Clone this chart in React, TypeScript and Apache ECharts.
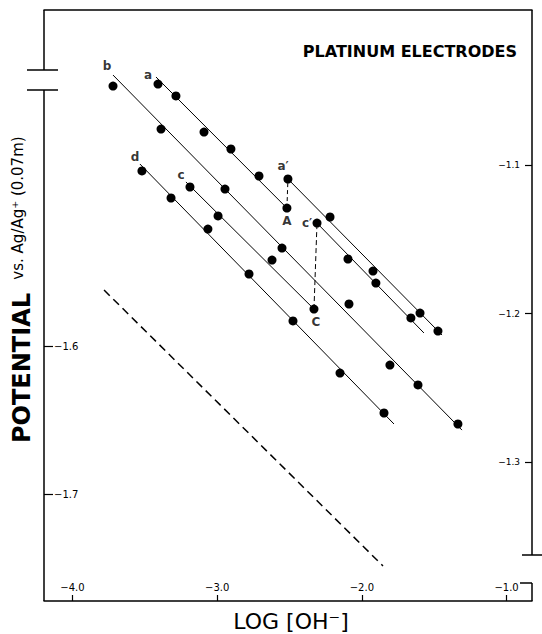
import React, { useEffect, useRef } from "react";
import * as echarts from "echarts";

// Axis ticks and labels
const xTicks = [-4, -3, -2, -1];
const xTickLabels = ["−4.0", "−3.0", "−2.0", "−1.0"];
const rightTicks = [-1.1, -1.2, -1.3];
const rightTickLabels = ["−1.1", "−1.2", "−1.3"];
const leftTicks = [-1.6, -1.7];
const leftTickLabels = ["−1.6", "−1.7"];

// Axis ranges (log[OH-], potential)
const X_MIN = -4.197;
const X_MAX = -0.824;
const YR_MIN = -1.3936;
const YR_MAX = -0.9956;
const YL_MIN = -1.7717;
const YL_MAX = -1.3737;

// Fitted lines (two end points each)
const bLine = [[-3.72, -1.0394], [-1.308, -1.2785]];
const aLine = [[-3.423, -1.0407], [-2.518, -1.129]];
const aPrimeLine = [[-2.511, -1.1094], [-1.446, -1.2145]];
const cLine = [[-3.216, -1.1114], [-2.331, -1.197]];
const cPrimeLine = [[-2.31, -1.1391], [-1.571, -1.2131]];
const dLine = [[-3.534, -1.0993], [-1.778, -1.2744]];
const dashedLine = [[-3.782, -1.1842], [-1.854, -1.37]];
const linkA = [[-2.518, -1.129], [-2.511, -1.1094]];
const linkC = [[-2.331, -1.197], [-2.31, -1.1391]];

// Measured points
const bPoints = [[-3.72, -1.0468], [-3.388, -1.0758], [-2.946, -1.1162], [-2.552, -1.1559], [-2.089, -1.1936], [-1.806, -1.2347], [-1.612, -1.2481], [-1.336, -1.2744]];
const aPoints = [[-3.409, -1.0455], [-3.285, -1.0535], [-3.091, -1.0778], [-2.905, -1.0892], [-2.711, -1.1074], [-2.518, -1.129]];
const aPrimePoints = [[-2.511, -1.1094], [-2.22, -1.135], [-1.923, -1.1714], [-1.598, -1.1997], [-1.474, -1.2118]];
const cPoints = [[-3.188, -1.1148], [-2.994, -1.1343], [-2.621, -1.164], [-2.331, -1.197]];
const cPrimePoints = [[-2.31, -1.1391], [-2.096, -1.1633], [-1.903, -1.1795], [-1.661, -1.203]];
const dPoints = [[-3.52, -1.104], [-3.319, -1.1222], [-3.064, -1.1431], [-2.78, -1.1734], [-2.476, -1.205], [-2.151, -1.2401], [-1.847, -1.267]];

// Curve letters
const letterNames = ["b", "a", "d", "c", "a′", "A", "c′", "C"];
const letterPos = [[-3.762, -1.0333], [-3.478, -1.0394], [-3.568, -1.0946], [-3.25, -1.1067], [-2.545, -1.1007], [-2.518, -1.1377], [-2.379, -1.1391], [-2.317, -1.2057]];

const INK = "#000";
const FONT = '"DejaVu Sans", "Liberation Sans", Arial, sans-serif';

function pick(ticks: number[], labels: string[]) {
  return (v: number) => {
    const i = ticks.findIndex((t) => Math.abs(t - v) < 1e-6);
    return i >= 0 ? labels[i] : "";
  };
}

function fitLine(data: number[][]) {
  return {
    type: "line",
    data,
    symbol: "none",
    silent: true,
    lineStyle: { color: INK, width: 1 },
    z: 2,
  };
}

function dashLine(data: number[][], width: number, dash: number[]) {
  return {
    type: "line",
    data,
    symbol: "none",
    silent: true,
    lineStyle: { color: INK, width, type: dash },
    z: 2,
  };
}

function dots(data: number[][]) {
  return {
    type: "scatter",
    data,
    symbol: "circle",
    symbolSize: 9,
    silent: true,
    itemStyle: { color: "#000", opacity: 1 },
    z: 3,
  };
}

export default function App() {
  const ref = useRef<HTMLDivElement>(null);
  useEffect(() => {
    if (!ref.current) return;
    const chart = echarts.init(ref.current, undefined, { renderer: "svg" });
    const L = 44, R = 532, T = 10, B = 601;
    const frame = { stroke: INK, lineWidth: 1.5 };
    const option: any = {
      animation: false,
      backgroundColor: "#fff",
      grid: { left: L, right: 542 - R, top: T, bottom: 634 - B },
      xAxis: [
        {
          type: "value",
          position: "bottom",
          min: X_MIN,
          max: X_MAX,
          splitLine: { show: false },
          axisLine: { show: true, onZero: false, lineStyle: { color: INK, width: 1.5 } },
          axisTick: { show: true, inside: true, length: 6, customValues: xTicks, lineStyle: { color: INK, width: 1.2 } },
          axisLabel: {
            show: true,
            inside: true,
            margin: 9,
            customValues: xTicks,
            formatter: pick(xTicks, xTickLabels),
            fontFamily: FONT,
            fontSize: 10,
            color: INK,
          },
        },
        {
          type: "value",
          position: "top",
          min: X_MIN,
          max: X_MAX,
          splitLine: { show: false },
          axisLine: { show: true, onZero: false, lineStyle: { color: INK, width: 1.5 } },
          axisTick: { show: false },
          axisLabel: { show: false },
        },
      ],
      yAxis: [
        {
          type: "value",
          position: "right",
          min: YR_MIN,
          max: YR_MAX,
          splitLine: { show: false },
          axisLine: { show: false, onZero: false },
          axisTick: { show: true, inside: true, length: 7, customValues: rightTicks, lineStyle: { color: INK, width: 1.2 } },
          axisLabel: {
            show: true,
            inside: true,
            margin: 12,
            customValues: rightTicks,
            formatter: pick(rightTicks, rightTickLabels),
            fontFamily: FONT,
            fontSize: 9,
            color: INK,
          },
        },
        {
          type: "value",
          position: "left",
          min: YL_MIN,
          max: YL_MAX,
          splitLine: { show: false },
          axisLine: { show: false, onZero: false },
          axisTick: { show: true, inside: true, length: 9, customValues: leftTicks, lineStyle: { color: INK, width: 1.2 } },
          axisLabel: {
            show: true,
            inside: true,
            margin: 10,
            customValues: leftTicks,
            formatter: pick(leftTicks, leftTickLabels),
            fontFamily: FONT,
            fontSize: 10,
            color: INK,
          },
        },
      ],
      series: [
        fitLine(bLine),
        fitLine(aLine),
        fitLine(aPrimeLine),
        fitLine(cLine),
        fitLine(cPrimeLine),
        fitLine(dLine),
        dashLine(dashedLine, 1.5, [8, 5]),
        dashLine(linkA, 1, [4, 3]),
        dashLine(linkC, 1, [5, 3]),
        dots(bPoints),
        dots(aPoints),
        dots(aPrimePoints),
        dots(cPoints),
        dots(cPrimePoints),
        dots(dPoints),
        {
          type: "scatter",
          data: letterNames.map((n, i) => ({ name: n, value: letterPos[i] })),
          symbol: "circle",
          symbolSize: 1,
          silent: true,
          itemStyle: { color: "rgba(0,0,0,0)" },
          label: {
            show: true,
            position: "inside",
            formatter: "{b}",
            fontFamily: FONT,
            fontWeight: "bold",
            fontSize: 12,
            color: INK,
          },
          z: 4,
        },
      ],
      graphic: [
        // left axis with break
        { type: "line", silent: true, shape: { x1: L, y1: T, x2: L, y2: 70 }, style: frame },
        { type: "line", silent: true, shape: { x1: 27, y1: 70, x2: 58, y2: 70 }, style: frame },
        { type: "line", silent: true, shape: { x1: 27, y1: 90, x2: 58, y2: 90 }, style: frame },
        { type: "line", silent: true, shape: { x1: L, y1: 90, x2: L, y2: B }, style: frame },
        // right axis with break
        { type: "line", silent: true, shape: { x1: R, y1: T, x2: R, y2: 555 }, style: frame },
        { type: "line", silent: true, shape: { x1: 522, y1: 555, x2: 542, y2: 555 }, style: frame },
        { type: "line", silent: true, shape: { x1: 520, y1: 583, x2: R, y2: 583 }, style: frame },
        { type: "line", silent: true, shape: { x1: R, y1: 583, x2: R, y2: B }, style: frame },
        {
          type: "text",
          silent: true,
          x: 517,
          y: 51,
          style: { text: "PLATINUM ELECTRODES", font: 'bold 16px "DejaVu Sans"', fill: INK, align: "right", verticalAlign: "middle" },
        },
        {
          type: "text",
          silent: true,
          x: 291,
          y: 621,
          style: { text: "LOG [OH⁻]", font: '22px "DejaVu Sans"', fill: INK, align: "center", verticalAlign: "middle" },
        },
        {
          type: "text",
          silent: true,
          x: 22,
          y: 368,
          rotation: Math.PI / 2,
          style: { text: "POTENTIAL", font: 'bold 24px "DejaVu Sans"', fill: INK, align: "center", verticalAlign: "middle" },
        },
        {
          type: "text",
          silent: true,
          x: 18,
          y: 208,
          rotation: Math.PI / 2,
          style: { text: "vs. Ag/Ag⁺ (0.07m)", font: '15px "DejaVu Sans"', fill: INK, align: "center", verticalAlign: "middle" },
        },
      ],
    };
    chart.setOption(option);
    return () => chart.dispose();
  }, []);
  return <div ref={ref} style={{ position: "absolute", left: 0, top: 0, width: 542, height: 634 }} />;
}
